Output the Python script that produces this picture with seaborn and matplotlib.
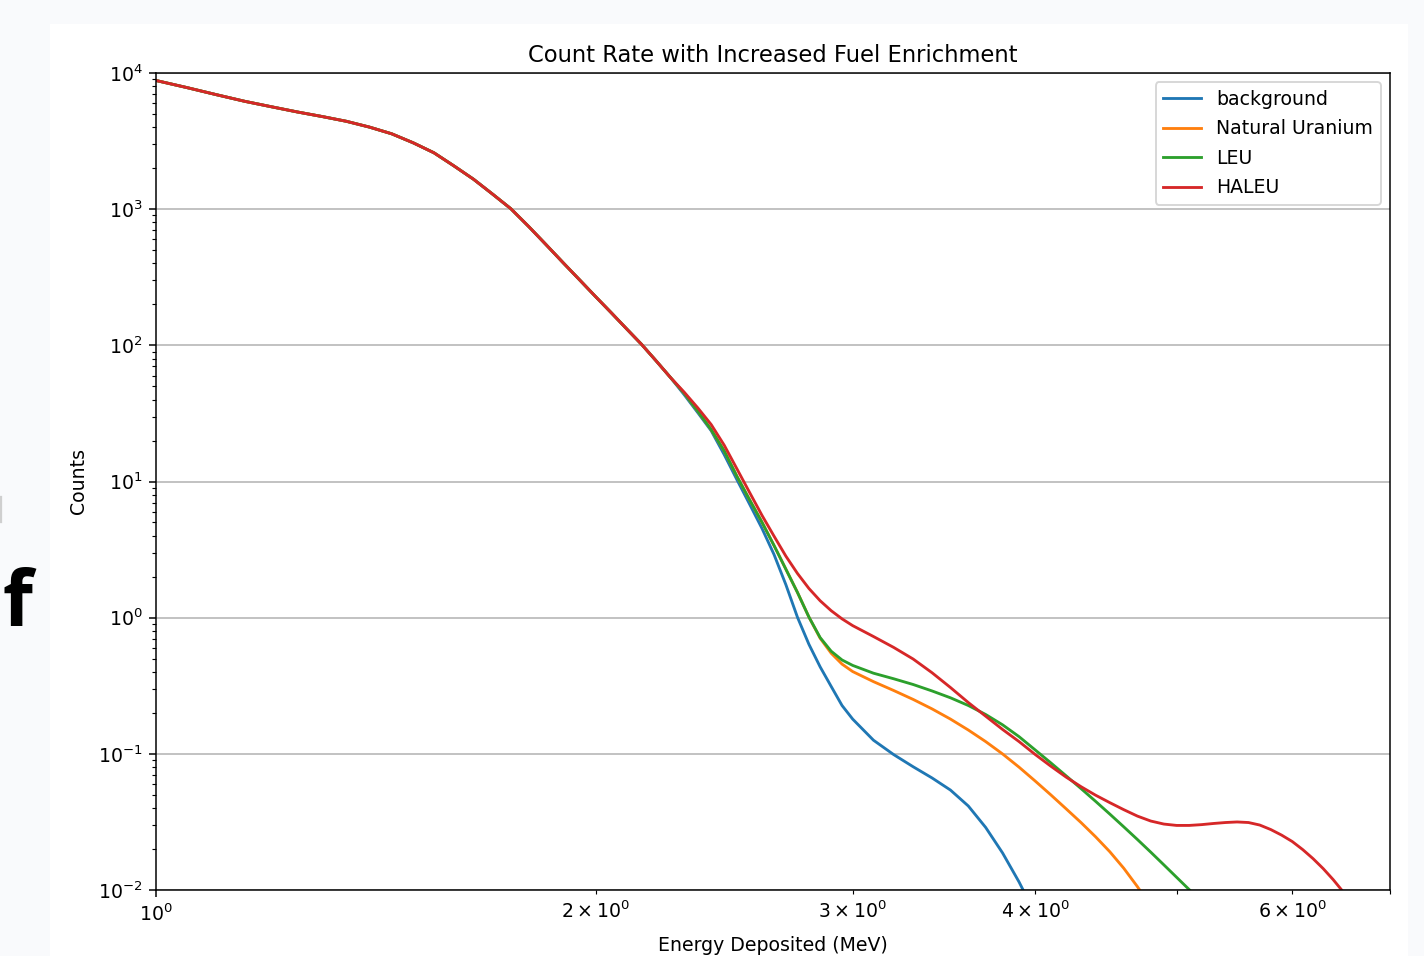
import numpy as np
import pandas as pd
import matplotlib
matplotlib.use("Agg")
import matplotlib.pyplot as plt
from matplotlib.patches import Rectangle
from matplotlib.lines import Line2D
import seaborn as sns

# Energy grid (MeV), counts
energy = [1.00, 1.05, 1.10, 1.15, 1.20, 1.25, 1.30, 1.35, 1.40, 1.45,
          1.50, 1.55, 1.60, 1.65, 1.70, 1.75, 1.80, 1.85, 1.90, 1.95,
          2.00, 2.05, 2.10, 2.15, 2.20, 2.25, 2.30, 2.35, 2.40, 2.45,
          2.50, 2.55, 2.60, 2.65, 2.70, 2.75, 2.80, 2.85, 2.90, 2.95,
          3.00, 3.1, 3.2, 3.3, 3.4, 3.5, 3.6, 3.7, 3.8, 3.9,
          4.0, 4.1, 4.2, 4.3, 4.4, 4.5, 4.6, 4.7, 4.8, 4.9,
          5.0, 5.1, 5.2, 5.3, 5.4, 5.5, 5.6, 5.7, 5.8, 5.9,
          6.0, 6.1, 6.2, 6.3, 6.4, 6.5, 6.6]

# low-energy part where all four spectra overlap (1.00 - 2.25 MeV)
common = [8810, 7813, 6929, 6198, 5646, 5172, 4786, 4420, 4007, 3578,
          3073, 2595, 2076, 1658, 1291, 1007, 745, 548, 405, 303,
          228, 173.6, 132.4, 101.9, 77.1, 58.3]

# 2.30 MeV onwards
background = common + [43.4, 32.0, 23.6, 15.73, 10.26, 6.81, 4.53, 2.91, 1.747, 1.005,
                       0.637, 0.435, 0.3126, 0.2265, 0.1799,
                       0.1259, 0.0988, 0.0804, 0.0665, 0.0542, 0.0414, 0.0288, 0.0187, 0.01145,
                       0.0067] + [np.nan] * 26
natural_u = common + [44.5, 32.8, 24.05, 16.75, 10.86, 7.33, 5.03, 3.39, 2.27, 1.53,
                      1.01, 0.706, 0.548, 0.456, 0.402,
                      0.339, 0.292, 0.251, 0.2138, 0.180, 0.1496, 0.1230, 0.0998, 0.0798,
                      0.0632, 0.0500, 0.0395, 0.0313, 0.0246, 0.0191, 0.01445, 0.01059,
                      0.0076] + [np.nan] * 18
leu = common + [44.5, 32.8, 24.05, 16.75, 10.86, 7.33, 5.03, 3.39, 2.27, 1.53,
                1.01, 0.714, 0.567, 0.489, 0.446,
                0.391, 0.356, 0.323, 0.2896, 0.258, 0.2265, 0.1945, 0.1633, 0.1337,
                0.1069, 0.0859, 0.0690, 0.0556, 0.0448, 0.0361, 0.0291, 0.0235, 0.01897, 0.01531,
                0.01239, 0.01007, 0.00813] + [np.nan] * 14
haleu = common + [45.3, 34.7, 26.2, 18.45, 12.33, 8.30, 5.65, 3.97, 2.83, 2.11,
                  1.638, 1.331, 1.125, 0.980, 0.874,
                  0.727, 0.605, 0.497, 0.394, 0.307, 0.238, 0.189, 0.151, 0.123,
                  0.099, 0.0812, 0.0675, 0.0574, 0.0497, 0.0438, 0.0389, 0.0349, 0.0321, 0.0305,
                  0.0298, 0.0298, 0.0302, 0.0308, 0.0313, 0.0316, 0.0313, 0.0300, 0.0278, 0.0253,
                  0.0227, 0.0198, 0.0170, 0.01436, 0.01192, 0.00973] + [np.nan]

series_names = ["background", "Natural Uranium", "LEU", "HALEU"]
series_values = [background, natural_u, leu, haleu]
colors = ["#1f77b4", "#ff7f0e", "#2ca02c", "#d62728"]

frames = []
for name, vals in zip(series_names, series_values):
    frames.append(pd.DataFrame({"energy": energy, "counts": vals, "source": name}))
df = pd.concat(frames, ignore_index=True).dropna()

W, H, DPI = 1424, 956, 136
fig = plt.figure(figsize=(W / DPI, H / DPI), dpi=DPI, facecolor="#f9fafc")

# white matplotlib figure area inside the slide screenshot
fig.add_artist(Rectangle((50 / W, 0), (1408 - 50) / W, (956 - 24) / H,
                         transform=fig.transFigure, facecolor="white",
                         edgecolor="none", zorder=-1))
fig.add_artist(Line2D([0.5 / W, 0.5 / W], [1 - 497 / H, 1 - 522 / H],
                      transform=fig.transFigure, color="#cfcfcf", lw=1.2))
fig.text(2 / W, 1 - 626 / H, "f", fontsize=41, fontweight="bold",
         family=["Open Sans", "DejaVu Sans"], ha="left", va="baseline", color="black")

ax = fig.add_axes([156 / W, 1 - 890 / H, (1390 - 156) / W, (890 - 73) / H])

sns.lineplot(data=df, x="energy", y="counts", hue="source", hue_order=series_names,
             palette=colors, errorbar=None, estimator=None, linewidth=1.5, ax=ax)

ax.set_xscale("log")
ax.set_yscale("log")
ax.set_xlim(1, 7)
ax.set_ylim(1e-2, 1e4)
ax.grid(axis="y", which="major", color="#b0b0b0", linewidth=0.8)
ax.set_axisbelow(True)

ax.set_title("Count Rate with Increased Fuel Enrichment")
ax.set_xlabel("Energy Deposited (MeV)", labelpad=6)
ax.set_ylabel("Counts", labelpad=5.5)
sns.move_legend(ax, "upper right", title=None, labelspacing=0.55)

fig.savefig("out.png", dpi=DPI, facecolor=fig.get_facecolor())
